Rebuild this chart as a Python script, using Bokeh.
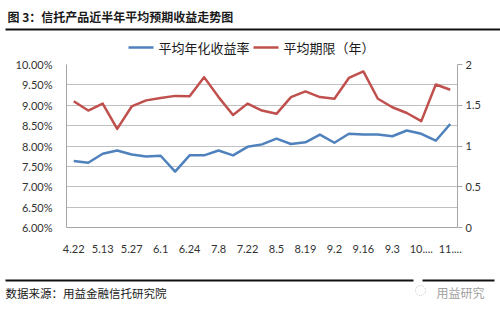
from bokeh.plotting import figure
from bokeh.layouts import column
from bokeh.models import (Range1d, LinearAxis, FixedTicker, PrintfTickFormatter,
                          CustomJSTickFormatter)
from bokeh.core.properties import value
from bokeh.embed import file_html
from bokeh.resources import INLINE

# ---------------- data ----------------
dates = ["4.22", "4.29", "5.13", "5.20", "5.27", "6.3", "6.10", "6.17", "6.24", "7.1",
         "7.8", "7.15", "7.22", "7.29", "8.5", "8.12", "8.19", "8.26", "9.2", "9.9",
         "9.16", "9.23", "9.30", "10.14", "10.21", "10.28", "11.4"]
axis_labels = ["4.22", "", "5.13", "", "5.27", "", "6.1", "", "6.24", "",
               "7.8", "", "7.22", "", "8.5", "", "8.19", "", "9.2", "",
               "9.16", "", "9.3", "", "10....", "", "11...."]
yield_pct = [7.63, 7.59, 7.81, 7.89, 7.79, 7.74, 7.76, 7.37, 7.77, 7.77,
             7.89, 7.77, 7.98, 8.04, 8.18, 8.05, 8.09, 8.28, 8.08, 8.30,
             8.28, 8.28, 8.24, 8.38, 8.30, 8.13, 8.54]
term_years = [1.55, 1.435, 1.52, 1.21, 1.485, 1.56, 1.59, 1.615, 1.61, 1.845,
              1.60, 1.38, 1.52, 1.435, 1.395, 1.60, 1.67, 1.60, 1.58, 1.835,
              1.915, 1.58, 1.475, 1.405, 1.305, 1.755, 1.69]
left_ticks = [6.0, 6.5, 7.0, 7.5, 8.0, 8.5, 9.0, 9.5, 10.0]
right_ticks = [0, 0.5, 1, 1.5, 2]
series_names = ["平均年化收益率", "平均期限（年）"]
title_text = "图 3：信托产品近半年平均预期收益走势图"
source_text = "数据来源：用益金融信托研究院"
watermark_text = "用益研究"

# ---------------- layout ----------------
W = 500
HEAD_H, MAIN_H, FOOT_H = 56, 214, 40
FL, FR = 66, 457          # frame left/right (canvas px)
FT, FB = 64, 227          # frame top/bottom (canvas px)
CJK = "Noto Sans CJK SC"
NUM = "Lato"
BLUE = "#4F81BD"
RED = "#C0504D"
AXIS_GRAY = "#A6A6A6"
TXT = "#1a1a1a"


def blank(h):
    f = figure(width=W, height=h, output_backend="svg", toolbar_location=None,
               x_range=Range1d(0, W), y_range=Range1d(h, 0),
               min_border=0, min_border_left=0, min_border_right=0,
               min_border_top=0, min_border_bottom=0, frame_align=False)
    f.axis.visible = False
    f.grid.visible = False
    f.outline_line_color = None
    f.background_fill_color = "white"
    f.border_fill_color = "white"
    return f


# ---- header: title, rule, legend ----
head = blank(HEAD_H)
head.text(x=[7], y=[16], text=[title_text], text_font=value(CJK), text_font_size="12px",
          text_font_style="bold", text_color=TXT, text_baseline="middle", text_align="left")
head.segment(x0=[5], y0=[29], x1=[500], y1=[29], line_color="#111111", line_width=2)
leg_x = [128, 253]
for lx, name, col in zip(leg_x, series_names, [BLUE, RED]):
    head.segment(x0=[lx], y0=[47], x1=[lx + 25], y1=[47], line_color=col, line_width=2.5)
    head.text(x=[lx + 30], y=[47], text=[name], text_font=value(CJK), text_font_size="13px",
              text_color=TXT, text_baseline="middle", text_align="left")

# ---- main chart ----
n = len(dates)
xs = [i + 0.5 for i in range(n)]
p = figure(width=W, height=MAIN_H, output_backend="svg", toolbar_location=None,
           x_range=Range1d(0, n), y_range=Range1d(6, 10), frame_align=False,
           min_border_left=FL, min_border_right=W - FR,
           min_border_top=FT - HEAD_H, min_border_bottom=HEAD_H + MAIN_H - FB)
p.outline_line_color = None
p.background_fill_color = "white"
p.border_fill_color = "white"
p.xgrid.visible = False
p.ygrid.grid_line_color = "#C0C0C0"
p.ygrid.grid_line_width = 1
p.ygrid.ticker = FixedTicker(ticks=left_ticks)
p.extra_y_ranges = {"r": Range1d(0, 2)}

ya = p.yaxis[0]
ya.ticker = FixedTicker(ticks=left_ticks)
ya.formatter = PrintfTickFormatter(format="%.2f%%")
ya.axis_line_color = AXIS_GRAY
ya.major_tick_line_color = None
ya.minor_tick_line_color = None
ya.major_label_standoff = 8
ya.major_label_text_font = NUM
ya.major_label_text_font_size = "11px"
ya.major_label_text_color = "#333333"

xa = p.xaxis[0]
xa.ticker = FixedTicker(ticks=[xs[i] for i in range(n) if axis_labels[i]])
xa.formatter = CustomJSTickFormatter(args=dict(labels=axis_labels),
                                     code="return labels[Math.floor(tick)];")
xa.axis_line_color = AXIS_GRAY
xa.major_tick_line_color = None
xa.minor_tick_line_color = None
xa.major_label_standoff = 11
xa.major_label_text_font = NUM
xa.major_label_text_font_size = "11px"
xa.major_label_text_color = "#333333"

ra = LinearAxis(y_range_name="r", ticker=FixedTicker(ticks=right_ticks),
                formatter=CustomJSTickFormatter(code="return String(tick);"))
ra.axis_line_color = AXIS_GRAY
ra.major_tick_line_color = AXIS_GRAY
ra.major_tick_out = 5
ra.major_tick_in = 0
ra.minor_tick_line_color = None
ra.major_label_standoff = 3
ra.major_label_text_font = NUM
ra.major_label_text_font_size = "11px"
ra.major_label_text_color = "#333333"
p.add_layout(ra, "right")

p.line(x=xs, y=yield_pct, line_color=BLUE, line_width=2.5, line_join="round")
p.line(x=xs, y=term_years, y_range_name="r", line_color=RED, line_width=2.5,
       line_join="round")

# ---- footer ----
foot = blank(FOOT_H)
y0 = HEAD_H + MAIN_H
foot.segment(x0=[5, 422], y0=[280 - y0] * 2, x1=[413, 494], y1=[280 - y0] * 2,
             line_color="#111111", line_width=2)
foot.text(x=[5], y=[292 - y0], text=[source_text], text_font=value(CJK),
          text_font_size="11.5px", text_color=TXT, text_baseline="middle", text_align="left")
foot.text(x=[436], y=[292 - y0], text=[watermark_text], text_font=value(CJK),
          text_font_size="12px", text_color="#A0A0A0", text_baseline="middle",
          text_align="left")
foot.circle(x=[420], y=[290 - y0], radius=5, fill_alpha=0, line_color="#C8C8C8",
            line_width=1, line_dash="1 1")

layout = column(head, p, foot, spacing=0)
open("out.html", "w").write(file_html(layout, INLINE))
